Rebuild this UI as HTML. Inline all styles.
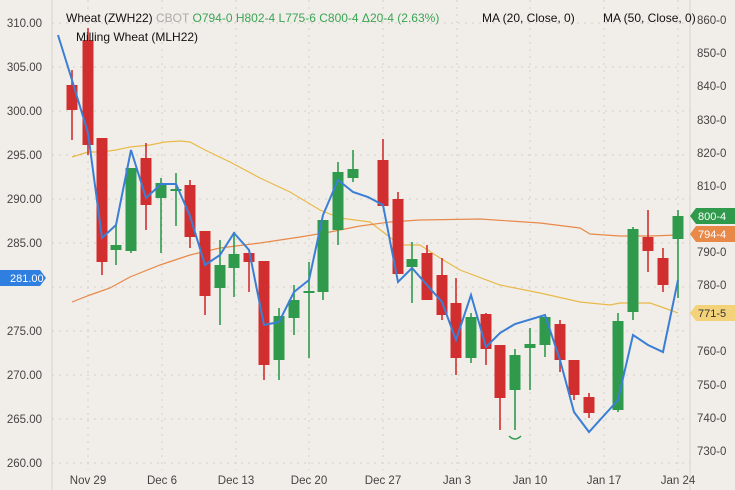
<!DOCTYPE html><html><head><style>body{margin:0;background:#f1eee9;}svg{display:block;font-family:"Liberation Sans",sans-serif}</style></head><body>
<svg width="735" height="490" viewBox="0 0 735 490">
<rect width="735" height="490" fill="#f1eee9"/>
<g stroke="#d3d0cb" stroke-dasharray="2,5" stroke-width="1">
<line x1="52" x2="690" y1="23" y2="23"/><line x1="52" x2="690" y1="67" y2="67"/><line x1="52" x2="690" y1="111" y2="111"/><line x1="52" x2="690" y1="155" y2="155"/><line x1="52" x2="690" y1="199" y2="199"/><line x1="52" x2="690" y1="243" y2="243"/><line x1="52" x2="690" y1="287" y2="287"/><line x1="52" x2="690" y1="331" y2="331"/><line x1="52" x2="690" y1="375" y2="375"/><line x1="52" x2="690" y1="419" y2="419"/><line x1="52" x2="690" y1="463" y2="463"/>
<line x1="88" x2="88" y1="0" y2="470"/><line x1="162" x2="162" y1="0" y2="470"/><line x1="236" x2="236" y1="0" y2="470"/><line x1="309" x2="309" y1="0" y2="470"/><line x1="383" x2="383" y1="0" y2="470"/><line x1="457" x2="457" y1="0" y2="470"/><line x1="530" x2="530" y1="0" y2="470"/><line x1="604" x2="604" y1="0" y2="470"/><line x1="678" x2="678" y1="0" y2="470"/>
</g>
<line x1="52" x2="52" y1="0" y2="490" stroke="#d6d3ce"/><line x1="690" x2="690" y1="0" y2="490" stroke="#d6d3ce"/>
<g font-size="11.5" fill="#444" text-anchor="end">
<text x="42" y="27">310.00</text><text x="42" y="71">305.00</text><text x="42" y="115">300.00</text><text x="42" y="159">295.00</text><text x="42" y="203">290.00</text><text x="42" y="247">285.00</text><text x="42" y="335">275.00</text><text x="42" y="379">270.00</text><text x="42" y="423">265.00</text><text x="42" y="467">260.00</text>
</g>
<g font-size="11.5" fill="#444">
<text x="697" y="24">860-0</text><text x="697" y="57">850-0</text><text x="697" y="90">840-0</text><text x="697" y="124">830-0</text><text x="697" y="157">820-0</text><text x="697" y="190">810-0</text><text x="697" y="256">790-0</text><text x="697" y="289">780-0</text><text x="697" y="355">760-0</text><text x="697" y="389">750-0</text><text x="697" y="422">740-0</text><text x="697" y="455">730-0</text>
</g>
<g font-size="11.5" fill="#444" text-anchor="middle">
<text x="88" y="484">Nov 29</text><text x="162" y="484">Dec 6</text><text x="236" y="484">Dec 13</text><text x="309" y="484">Dec 20</text><text x="383" y="484">Dec 27</text><text x="457" y="484">Jan 3</text><text x="530" y="484">Jan 10</text><text x="604" y="484">Jan 17</text><text x="678" y="484">Jan 24</text>
</g>
<polyline fill="none" stroke="#e9b949" stroke-width="1.2" points="72,157 88,152 102,152 116,150 130,147 150,145 165,142 180,141 190,142 205,150 230,162 260,178 290,192 320,210 340,218 370,222 400,245 420,245 440,258 460,270 500,285 540,293 580,302 610,305 620,303 650,303 670,310 678,313"/>
<polyline fill="none" stroke="#e8894a" stroke-width="1.2" points="72,302 90,295 110,288 130,277 160,265 190,255 220,248 260,243 300,237 330,232 360,226 390,222 420,220 480,219 540,223 580,228 590,234 620,236 650,236 678,235"/>
<g stroke="#d12f2f" stroke-width="1.6">
<line x1="72" x2="72" y1="70" y2="140"/><line x1="88" x2="88" y1="28" y2="155"/><line x1="102" x2="102" y1="138" y2="275"/><line x1="146" x2="146" y1="143" y2="230"/><line x1="190" x2="190" y1="180" y2="248"/><line x1="205" x2="205" y1="231" y2="315"/><line x1="249" x2="249" y1="253" y2="292"/><line x1="264" x2="264" y1="261" y2="380"/><line x1="383" x2="383" y1="139" y2="206"/><line x1="398" x2="398" y1="192" y2="274"/><line x1="427" x2="427" y1="245" y2="300"/><line x1="442" x2="442" y1="258" y2="320"/><line x1="456" x2="456" y1="278" y2="375"/><line x1="486" x2="486" y1="313" y2="365"/><line x1="500" x2="500" y1="345" y2="430"/><line x1="560" x2="560" y1="320" y2="372"/><line x1="574" x2="574" y1="360" y2="400"/><line x1="589" x2="589" y1="393" y2="418"/><line x1="648" x2="648" y1="210" y2="272"/><line x1="663" x2="663" y1="248" y2="292"/>
</g>
<g fill="#d12f2f">
<rect x="66.5" y="85" width="11" height="25"/><rect x="82.5" y="40" width="11" height="105"/><rect x="96.5" y="138" width="11" height="124"/><rect x="140.5" y="158" width="11" height="47"/><rect x="184.5" y="185" width="11" height="52"/><rect x="199.5" y="231" width="11" height="65"/><rect x="243.5" y="253" width="11" height="9"/><rect x="258.5" y="261" width="11" height="104"/><rect x="377.5" y="160" width="11" height="46"/><rect x="392.5" y="199" width="11" height="75"/><rect x="421.5" y="253" width="11" height="47"/><rect x="436.5" y="275" width="11" height="40"/><rect x="450.5" y="303" width="11" height="55"/><rect x="480.5" y="314" width="11" height="35"/><rect x="494.5" y="345" width="11" height="53"/><rect x="554.5" y="324" width="11" height="36"/><rect x="568.5" y="360" width="11" height="35"/><rect x="583.5" y="397" width="11" height="16"/><rect x="642.5" y="237" width="11" height="14"/><rect x="657.5" y="258" width="11" height="27"/>
</g>
<g stroke="#2f9a4c" stroke-width="1.6">
<line x1="116" x2="116" y1="225" y2="265"/><line x1="131" x2="131" y1="168" y2="253"/><line x1="161" x2="161" y1="178" y2="253"/><line x1="176" x2="176" y1="173" y2="226"/><line x1="220" x2="220" y1="240" y2="325"/><line x1="234" x2="234" y1="232" y2="297"/><line x1="279" x2="279" y1="308" y2="380"/><line x1="294" x2="294" y1="285" y2="335"/><line x1="309" x2="309" y1="262" y2="358"/><line x1="323" x2="323" y1="220" y2="300"/><line x1="338" x2="338" y1="162" y2="245"/><line x1="353" x2="353" y1="150" y2="182"/><line x1="412" x2="412" y1="242" y2="303"/><line x1="471" x2="471" y1="313" y2="363"/><line x1="515" x2="515" y1="349" y2="430"/><line x1="530" x2="530" y1="328" y2="390"/><line x1="545" x2="545" y1="317" y2="357"/><line x1="618" x2="618" y1="313" y2="412"/><line x1="633" x2="633" y1="227" y2="320"/><line x1="678" x2="678" y1="210" y2="298"/>
</g>
<g fill="#2f9a4c">
<rect x="110.5" y="245" width="11" height="5"/><rect x="125.5" y="168" width="11" height="83"/><rect x="155.5" y="183" width="11" height="15"/><rect x="170.5" y="189" width="11" height="2"/><rect x="214.5" y="265" width="11" height="23"/><rect x="228.5" y="254" width="11" height="14"/><rect x="273.5" y="316" width="11" height="44"/><rect x="288.5" y="300" width="11" height="18"/><rect x="303.5" y="291" width="11" height="2"/><rect x="317.5" y="220" width="11" height="72"/><rect x="332.5" y="172" width="11" height="58"/><rect x="347.5" y="169" width="11" height="9"/><rect x="406.5" y="259" width="11" height="8"/><rect x="465.5" y="317" width="11" height="41"/><rect x="509.5" y="355" width="11" height="35"/><rect x="524.5" y="344" width="11" height="4"/><rect x="539.5" y="317" width="11" height="28"/><rect x="612.5" y="321" width="11" height="89"/><rect x="627.5" y="229" width="11" height="83"/><rect x="672.5" y="216" width="11" height="23"/>
</g>
<polyline fill="none" stroke="#3a7fd5" stroke-width="2" points="58,35 72,80 88,133 102,238 116,225 131,150 146,198 161,184 176,184 190,216 205,265 220,255 234,233 249,250 264,325 279,322 294,292 309,280 323,215 338,180 353,192 368,197 383,205 398,282 412,268 427,285 442,302 456,340 471,295 486,347 500,333 515,324 545,315 560,360 574,412 589,432 618,400 633,335 648,345 663,352 678,280"/>
<text x="66" y="22" font-size="12" fill="#111">Wheat (ZWH22) <tspan fill="#aaa">CBOT</tspan> <tspan fill="#3aa454">O794-0 H802-4 L775-6 C800-4 Δ20-4 (2.63%)</tspan></text>
<text x="76" y="41" font-size="12" fill="#111">Milling Wheat (MLH22)</text>
<text x="482" y="22" font-size="12" fill="#111">MA (20, Close, 0)</text>
<text x="603" y="22" font-size="12" fill="#111">MA (50, Close, 0)</text>
<path d="M0,270 H40 L46,278 L40,286 H0Z" fill="#2f7fe0"/><text x="10" y="282" font-size="11" fill="#fff">281.00</text>
<path d="M690,216 L696,208 H735 V224 H696Z" fill="#2f9a4c"/><text x="698" y="220" font-size="11" fill="#fff">800-4</text>
<path d="M690,234 L696,226 H735 V242 H696Z" fill="#e8894a"/><text x="698" y="238" font-size="11" fill="#fff">794-4</text>
<path d="M690,313 L696,305 H735 V321 H696Z" fill="#f3d27a"/><text x="698" y="317" font-size="11" fill="#333">771-5</text>
<path d="M509,436 Q515,442 521,436" fill="none" stroke="#2f9a4c" stroke-width="1.5"/>
</svg></body></html>
